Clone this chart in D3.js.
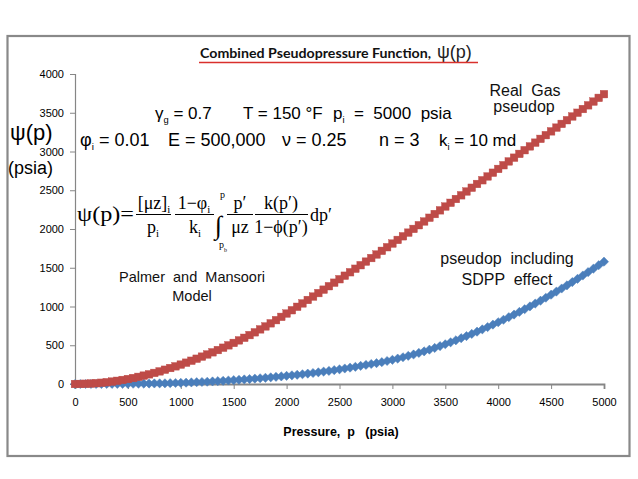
<!DOCTYPE html>
<html><head><meta charset="utf-8">
<script src="https://cdn.jsdelivr.net/npm/d3@7/dist/d3.min.js"></script>
<style>
html,body{margin:0;padding:0;background:#fff;}
svg{display:block;}
</style></head>
<body>
<svg id="chart" width="638" height="479"></svg>
<script>
// ---- data ----
const pressures = [0,50,100,150,200,250,300,350,400,450,500,550,600,650,700,750,800,850,900,950,
1000,1050,1100,1150,1200,1250,1300,1350,1400,1450,1500,1550,1600,1650,1700,1750,1800,1850,1900,1950,
2000,2050,2100,2150,2200,2250,2300,2350,2400,2450,2500,2550,2600,2650,2700,2750,2800,2850,2900,2950,
3000,3050,3100,3150,3200,3250,3300,3350,3400,3450,3500,3550,3600,3650,3700,3750,3800,3850,3900,3950,
4000,4050,4100,4150,4200,4250,4300,4350,4400,4450,4500,4550,4600,4650,4700,4750,4800,4850,4900,4950,5000];

const realGas = [0,1,3,6,10,16,23,31,41,52,64,77,92,108,125,143,163,184,206,228,
250,275,300,326,353,381,409,438,468,499,530,563,596,631,667,705,743,783,824,866,
909,952,996,1040,1084,1128,1173,1217,1262,1307,1352,1397,1442,1487,1533,1579,1625,1671,1718,1765,
1812,1859,1906,1953,2001,2049,2097,2145,2193,2241,2290,2338,2387,2435,2484,2532,2581,2629,2678,2726,
2775,2823,2872,2920,2969,3017,3066,3114,3163,3211,3260,3308,3356,3404,3452,3500,3548,3596,3644,3692,3740];

const sdpp = [0,0,0,0,0,0,1,1,1,2,2,3,4,5,6,7,8,9,11,13,
15,17,20,23,26,29,33,37,41,45,50,54,59,64,69,74,80,86,92,98,
105,112,119,126,134,142,151,160,169,179,189,200,211,222,234,246,258,269,282,297,
312,328,345,363,381,401,421,443,465,489,513,538,564,591,618,646,675,705,735,766,
797,829,862,896,930,965,1001,1038,1075,1113,1152,1192,1232,1273,1315,1357,1400,1444,1488,1533,1578];

const xTicks = [0,500,1000,1500,2000,2500,3000,3500,4000,4500,5000];
const yTicks = [0,500,1000,1500,2000,2500,3000,3500,4000];

// ---- layout ----
const svg = d3.select("#chart");
const x = d3.scaleLinear().domain([0,5000]).range([75,604]);
const y = d3.scaleLinear().domain([0,4000]).range([384,74]);
const sans = "'Liberation Sans', Arial, sans-serif";
const serif = "'Liberation Serif', 'Times New Roman', serif";

// frame
svg.append("rect").attr("x",7.5).attr("y",36).attr("width",622).attr("height",420)
  .attr("fill","#fff").attr("stroke","#898989").attr("stroke-width",2.2);

// title
svg.append("text").attr("x",200).attr("y",58)
  .attr("font-family","Lato, 'Open Sans', sans-serif").attr("font-weight",700)
  .attr("font-size",14).attr("fill","#111")
  .attr("textLength",231).attr("lengthAdjust","spacingAndGlyphs")
  .text("Combined Pseudopressure Function,");
svg.append("text").attr("x",437).attr("y",58)
  .attr("font-family",sans).attr("font-size",18).attr("fill","#222")
  .text("ψ(p)");
svg.append("line").attr("x1",199).attr("x2",478).attr("y1",62.5).attr("y2",62.5)
  .attr("stroke","#d9302c").attr("stroke-width",1.4);

// axes
const axisColor = "#868686";
const gy = svg.append("g").attr("transform","translate(75,0)")
  .call(d3.axisLeft(y).tickValues(yTicks).tickSize(5).tickPadding(6).tickFormat(d3.format("d")));
const gx = svg.append("g").attr("transform","translate(0,384)")
  .call(d3.axisBottom(x).tickValues(xTicks).tickSize(5).tickPadding(9).tickFormat(d3.format("d")));
[gx,gy].forEach(g=>{
  g.select(".domain").attr("stroke",axisColor);
  g.selectAll(".tick line").attr("stroke",axisColor);
  g.selectAll(".tick text").attr("font-family",sans).attr("font-size",11).attr("fill","#000");
});
gx.select(".domain").attr("stroke-width",1.8);
gy.select(".domain").attr("stroke-width",1.2);

// axis titles
svg.append("text").attr("x",341).attr("y",436).attr("text-anchor","middle")
  .attr("font-family",sans).attr("font-weight",700).attr("font-size",12.5)
  .attr("xml:space","preserve").style("white-space","pre")
  .text("Pressure,  p   (psia)");
svg.append("text").attr("x",10).attr("y",140).attr("font-family",sans).attr("font-size",22).text("ψ(p)");
svg.append("text").attr("x",8).attr("y",174).attr("font-family",sans).attr("font-size",18).text("(psia)");

// series
const gBlue = svg.append("g");
gBlue.selectAll("path").data(pressures.map((p,i)=>[p,sdpp[i]])).join("path")
  .attr("transform",d=>`translate(${x(d[0])},${y(d[1])})`)
  .attr("d","M0,-4.6L4.6,0L0,4.6L-4.6,0Z")
  .attr("fill","#4a7ebb").attr("stroke","#4a7ebb").attr("stroke-width",0.5);
const gRed = svg.append("g");
gRed.selectAll("rect").data(pressures.map((p,i)=>[p,realGas[i]])).join("rect")
  .attr("x",d=>x(d[0])-3.8).attr("y",d=>y(d[1])-3.8).attr("width",7.6).attr("height",7.6)
  .attr("fill","#be4b48").attr("stroke","#be4b48").attr("stroke-width",0.4);

// parameter text
function seg(g, xx, yy, size, parts){
  const t = g.append("text").attr("x",xx).attr("y",yy).attr("font-family",sans)
     .attr("font-size",size).attr("fill","#000").attr("xml:space","preserve").style("white-space","pre");
  parts.forEach(p=>{
    const ts = t.append("tspan").text(p[0]);
    if(p[1]==="sub") ts.attr("font-size",size*0.55).attr("dy",4);
    if(p[1]==="back") ts.attr("dy",-4);
  });
  return t;
}
const gp = svg.append("g");
seg(gp,155,119,17,[["γ"],["g","sub"],[" = 0.7","back"]]);
seg(gp,243,119,17,[["T = 150 °F"]]);
seg(gp,333,119,17,[["p"],["i","sub"],["  =  5000  psia","back"]]);
seg(gp,80,146,18,[["φ"],["i","sub"],[" = 0.01","back"]]);
seg(gp,168,146,18,[["E = 500,000"]]);
seg(gp,282,146,18,[["ν = 0.25"]]);
seg(gp,379,146,18,[["n = 3"]]);
seg(gp,439,146,17,[["k"],["i","sub"],[" = 10 md","back"]]);

// formula
const gf = svg.append("g").attr("font-family",serif).attr("fill","#000");
function ft(xx,yy,size,parts,anchor){
  const t = gf.append("text").attr("x",xx).attr("y",yy).attr("font-size",size)
     .attr("text-anchor",anchor||"start").attr("xml:space","preserve").style("white-space","pre");
  parts.forEach(p=>{
    const ts = t.append("tspan").text(p[0]);
    if(p[1]==="sub") ts.attr("font-size",size*0.6).attr("dy",4);
    if(p[1]==="back") ts.attr("dy",-4);
  });
  return t;
}
function bar(x1,x2,yy){ gf.append("line").attr("x1",x1).attr("x2",x2).attr("y1",yy).attr("y2",yy).attr("stroke","#000").attr("stroke-width",1); }
ft(77,221,22,[["ψ(p)="]]).attr("textLength",57).attr("lengthAdjust","spacingAndGlyphs");
ft(154,209,18,[["[μz]"],["i","sub"]],"middle"); bar(136,171,214.5);
ft(153,233,18,[["p"],["i","sub"]],"middle");
ft(194,209,18,[["1−φ"],["i","sub"]],"middle"); bar(175,214,214.5);
ft(195,233,18,[["k"],["i","sub"]],"middle");
ft(215,234,26,[["∫"]]);
ft(220,198,10,[["p"]]);
ft(219,248,10,[["p"],["b","sub"]]);
ft(240,209,18,[["p′"]],"middle"); bar(227,253,214.5);
ft(240,233,18,[["μz"]],"middle");
ft(281,209,18,[["k(p′)"]],"middle"); bar(255,308,214.5);
ft(281,233,18,[["1−ϕ(p′)"]],"middle");
ft(310,221,18,[["dp′"]]);

// annotations
function lab(xx,yy,size,txt){
  svg.append("text").attr("x",xx).attr("y",yy).attr("text-anchor","middle").attr("font-family",sans)
    .attr("font-size",size).attr("fill","#111").attr("xml:space","preserve").style("white-space","pre").text(txt);
}
lab(192,282,14.5,"Palmer  and  Mansoori");
lab(192,301,14.5,"Model");
lab(525,96,16,"Real  Gas");
lab(524,112,16,"pseudop");
lab(507,264,16,"pseudop  including");
lab(507,285,16,"SDPP  effect");
</script>
</body></html>
